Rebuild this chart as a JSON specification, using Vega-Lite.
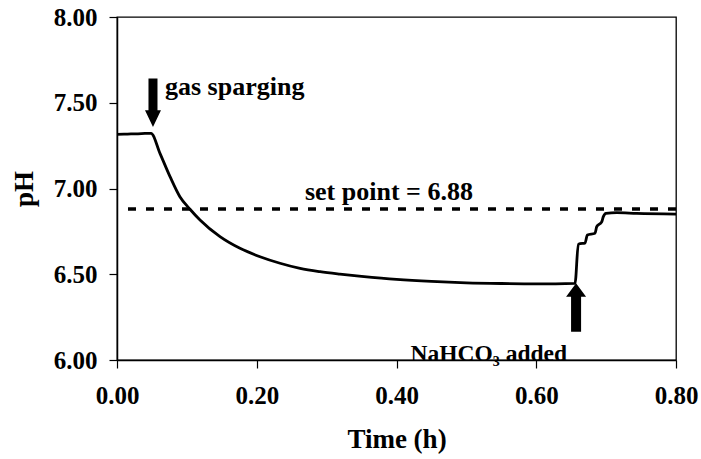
{
  "$schema": "https://vega.github.io/schema/vega-lite/v6.json",
  "width": 559,
  "height": 343,
  "autosize": "none",
  "padding": {"left": 117, "top": 17, "right": 25, "bottom": 99},
  "background": "white",
  "datasets": {
    "series": [
      {"t": 0.000, "pH": 7.316},
      {"t": 0.010, "pH": 7.317},
      {"t": 0.020, "pH": 7.318},
      {"t": 0.030, "pH": 7.319},
      {"t": 0.040, "pH": 7.321},
      {"t": 0.0487, "pH": 7.322},
      {"t": 0.0615, "pH": 7.205},
      {"t": 0.0759, "pH": 7.069},
      {"t": 0.090, "pH": 6.952},
      {"t": 0.1045, "pH": 6.879},
      {"t": 0.1188, "pH": 6.816},
      {"t": 0.1474, "pH": 6.719},
      {"t": 0.176, "pH": 6.651},
      {"t": 0.2047, "pH": 6.602},
      {"t": 0.2333, "pH": 6.564},
      {"t": 0.262, "pH": 6.534},
      {"t": 0.2905, "pH": 6.515},
      {"t": 0.319, "pH": 6.501},
      {"t": 0.35, "pH": 6.488},
      {"t": 0.40, "pH": 6.470},
      {"t": 0.45, "pH": 6.458},
      {"t": 0.50, "pH": 6.450},
      {"t": 0.55, "pH": 6.446},
      {"t": 0.60, "pH": 6.444},
      {"t": 0.6555, "pH": 6.447},
      {"t": 0.6602, "pH": 6.675},
      {"t": 0.6673, "pH": 6.680},
      {"t": 0.6698, "pH": 6.681},
      {"t": 0.6731, "pH": 6.729},
      {"t": 0.6841, "pH": 6.739},
      {"t": 0.6865, "pH": 6.777},
      {"t": 0.6937, "pH": 6.806},
      {"t": 0.6960, "pH": 6.836},
      {"t": 0.6998, "pH": 6.855},
      {"t": 0.7151, "pH": 6.859},
      {"t": 0.7438, "pH": 6.855},
      {"t": 0.800, "pH": 6.851}
    ],
    "setpoint": [{"pH": 6.88}],
    "labels": [
      {"t": 0.0687, "pH": 7.545, "text": "gas sparging"},
      {"t": 0.269, "pH": 6.933, "text": "set point = 6.88"}
    ],
    "chem": [
      {"t": 0.42, "pH": 5.995, "text": "NaHCO₃ added"}
    ],
    "arrows": [
      {"t": 0.0515, "pH": 7.50, "dir": "down"},
      {"t": 0.657, "pH": 6.306, "dir": "up"}
    ]
  },
  "config": {
    "view": {"stroke": "black", "strokeWidth": 1.3},
    "font": "Liberation Serif",
    "axis": {
      "grid": false,
      "labelFont": "Liberation Serif",
      "labelFontWeight": "bold",
      "labelFontSize": 25,
      "labelColor": "black",
      "titleFont": "Liberation Serif",
      "titleFontWeight": "bold",
      "titleFontSize": 27,
      "titleColor": "black",
      "domainColor": "black",
      "domainWidth": 1.5,
      "tickColor": "black",
      "tickWidth": 1.2,
      "tickSize": 8
    }
  },
  "layer": [
    {
      "data": {"name": "setpoint"},
      "mark": {"type": "rule", "color": "black", "strokeWidth": 3.5, "strokeDash": [8, 10]},
      "encoding": {
        "y": {"field": "pH", "type": "quantitative", "scale": {"domain": [6, 8], "nice": false, "zero": false}}
      }
    },
    {
      "data": {"name": "series"},
      "mark": {"type": "line", "color": "black", "strokeWidth": 2.8, "interpolate": "monotone"},
      "encoding": {
        "x": {
          "field": "t", "type": "quantitative",
          "scale": {"domain": [0, 0.8], "nice": false, "zero": false},
          "axis": {"values": [0, 0.2, 0.4, 0.6, 0.8], "format": ".2f", "title": "Time (h)", "labelPadding": 15, "titlePadding": 18, "labelFlush": false}
        },
        "y": {
          "field": "pH", "type": "quantitative",
          "scale": {"domain": [6, 8], "nice": false, "zero": false},
          "axis": {"values": [6, 6.5, 7, 7.5, 8], "format": ".2f", "title": "pH", "labelPadding": 12, "titlePadding": 15, "labelFlush": false}
        }
      }
    },
    {
      "data": {"name": "arrows"},
      "mark": {"type": "point", "filled": true, "color": "black", "opacity": 1, "size": 2343, "strokeWidth": 0},
      "encoding": {
        "x": {"field": "t", "type": "quantitative"},
        "y": {"field": "pH", "type": "quantitative"},
        "shape": {
          "field": "dir", "type": "nominal", "legend": null,
          "scale": {
            "domain": ["down", "up"],
            "range": [
              "M-0.186,-1H0.186V0.31H0.33L0,1L-0.33,0.31H-0.186Z",
              "M-0.207,1H0.207V-0.45H0.413L0,-1L-0.413,-0.45H-0.207Z"
            ]
          }
        }
      }
    },
    {
      "data": {"name": "labels"},
      "mark": {"type": "text", "font": "Liberation Serif", "fontWeight": "bold", "fontSize": 26, "color": "black", "align": "left", "baseline": "alphabetic"},
      "encoding": {
        "x": {"field": "t", "type": "quantitative"},
        "y": {"field": "pH", "type": "quantitative"},
        "text": {"field": "text", "type": "nominal"}
      }
    },
    {
      "data": {"name": "chem"},
      "mark": {"type": "text", "font": "Liberation Serif", "fontWeight": "bold", "fontSize": 23.5, "color": "black", "align": "left", "baseline": "alphabetic"},
      "encoding": {
        "x": {"field": "t", "type": "quantitative"},
        "y": {"field": "pH", "type": "quantitative"},
        "text": {"field": "text", "type": "nominal"}
      }
    }
  ]
}
